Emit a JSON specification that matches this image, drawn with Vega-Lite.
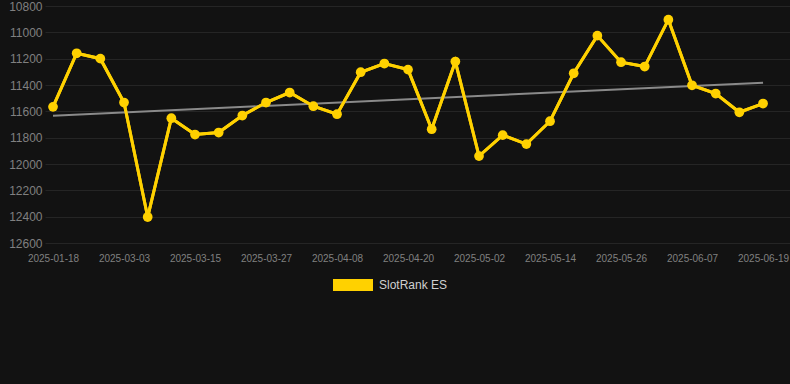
{
  "$schema": "https://vega.github.io/schema/vega-lite/v6.json",
  "width": 745,
  "height": 237,
  "autosize": {"type": "none"},
  "padding": {"left": 45, "top": 6, "right": 0, "bottom": 141},
  "background": "#121212",
  "config": {
    "view": {"stroke": null},
    "font": "Liberation Sans",
    "axis": {
      "gridColor": "#252525",
      "gridWidth": 1,
      "domain": false,
      "ticks": false,
      "labelColor": "#808080",
      "labelFont": "Liberation Sans"
    }
  },
  "datasets": {
    "main": [
      {"date": "2025-01-18", "rank": 11566, "series": "SlotRank ES"},
      {"date": "2025-02-23", "rank": 11159, "series": "SlotRank ES"},
      {"date": "2025-02-27", "rank": 11200, "series": "SlotRank ES"},
      {"date": "2025-03-03", "rank": 11533, "series": "SlotRank ES"},
      {"date": "2025-03-07", "rank": 12403, "series": "SlotRank ES"},
      {"date": "2025-03-11", "rank": 11652, "series": "SlotRank ES"},
      {"date": "2025-03-15", "rank": 11776, "series": "SlotRank ES"},
      {"date": "2025-03-19", "rank": 11761, "series": "SlotRank ES"},
      {"date": "2025-03-23", "rank": 11632, "series": "SlotRank ES"},
      {"date": "2025-03-27", "rank": 11533, "series": "SlotRank ES"},
      {"date": "2025-03-31", "rank": 11457, "series": "SlotRank ES"},
      {"date": "2025-04-04", "rank": 11561, "series": "SlotRank ES"},
      {"date": "2025-04-08", "rank": 11622, "series": "SlotRank ES"},
      {"date": "2025-04-12", "rank": 11303, "series": "SlotRank ES"},
      {"date": "2025-04-16", "rank": 11237, "series": "SlotRank ES"},
      {"date": "2025-04-20", "rank": 11283, "series": "SlotRank ES"},
      {"date": "2025-04-24", "rank": 11736, "series": "SlotRank ES"},
      {"date": "2025-04-28", "rank": 11222, "series": "SlotRank ES"},
      {"date": "2025-05-02", "rank": 11940, "series": "SlotRank ES"},
      {"date": "2025-05-06", "rank": 11781, "series": "SlotRank ES"},
      {"date": "2025-05-10", "rank": 11849, "series": "SlotRank ES"},
      {"date": "2025-05-14", "rank": 11675, "series": "SlotRank ES"},
      {"date": "2025-05-18", "rank": 11311, "series": "SlotRank ES"},
      {"date": "2025-05-22", "rank": 11025, "series": "SlotRank ES"},
      {"date": "2025-05-26", "rank": 11227, "series": "SlotRank ES"},
      {"date": "2025-05-30", "rank": 11260, "series": "SlotRank ES"},
      {"date": "2025-06-03", "rank": 10904, "series": "SlotRank ES"},
      {"date": "2025-06-07", "rank": 11402, "series": "SlotRank ES"},
      {"date": "2025-06-11", "rank": 11465, "series": "SlotRank ES"},
      {"date": "2025-06-15", "rank": 11607, "series": "SlotRank ES"},
      {"date": "2025-06-19", "rank": 11541, "series": "SlotRank ES"}
    ],
    "trend": [
      {"date": "2025-01-18", "rank": 11634},
      {"date": "2025-06-19", "rank": 11382}
    ]
  },
  "encoding": {
    "x": {
      "field": "date",
      "type": "ordinal",
      "sort": null,
      "scale": {"type": "point", "padding": 0.739, "align": 0.229},
      "axis": {
        "title": null,
        "labelAngle": 0,
        "labelFontSize": 10,
        "labelPadding": 10,
        "values": ["2025-01-18", "2025-03-03", "2025-03-15", "2025-03-27", "2025-04-08", "2025-04-20", "2025-05-02", "2025-05-14", "2025-05-26", "2025-06-07", "2025-06-19"]
      }
    },
    "y": {
      "field": "rank",
      "type": "quantitative",
      "scale": {"domain": [10800, 12600], "reverse": true, "nice": false, "zero": false},
      "axis": {
        "title": null,
        "values": [10800, 11000, 11200, 11400, 11600, 11800, 12000, 12200, 12400, 12600],
        "labelFontSize": 12,
        "labelPadding": 3,
        "format": "d"
      }
    }
  },
  "layer": [
    {
      "data": {"name": "main"},
      "mark": {"type": "line", "strokeWidth": 3},
      "encoding": {
        "color": {
          "field": "series",
          "type": "nominal",
          "scale": {"domain": ["SlotRank ES"], "range": ["#FFD100"]},
          "legend": {
            "title": null,
            "orient": "none",
            "legendX": 288,
            "legendY": 259,
            "padding": 0,
            "symbolType": "M-1,-0.3L1,-0.3L1,0.3L-1,0.3Z",
            "symbolSize": 1600,
            "symbolStrokeWidth": 0,
            "symbolFillColor": "#FFD100",
            "symbolOpacity": 1,
            "labelColor": "#d0d0d0",
            "labelFontSize": 12,
            "labelOffset": 6,
            "labelFont": "Liberation Sans"
          }
        }
      }
    },
    {
      "data": {"name": "trend"},
      "mark": {"type": "line", "strokeWidth": 2, "color": "#8a8a8a"},
      "encoding": {}
    },
    {
      "data": {"name": "main"},
      "mark": {"type": "line", "strokeWidth": 3},
      "encoding": {
        "color": {"field": "series", "type": "nominal"}
      }
    },
    {
      "data": {"name": "main"},
      "mark": {"type": "point", "filled": true, "size": 95, "opacity": 1},
      "encoding": {
        "color": {"field": "series", "type": "nominal"}
      }
    }
  ]
}
